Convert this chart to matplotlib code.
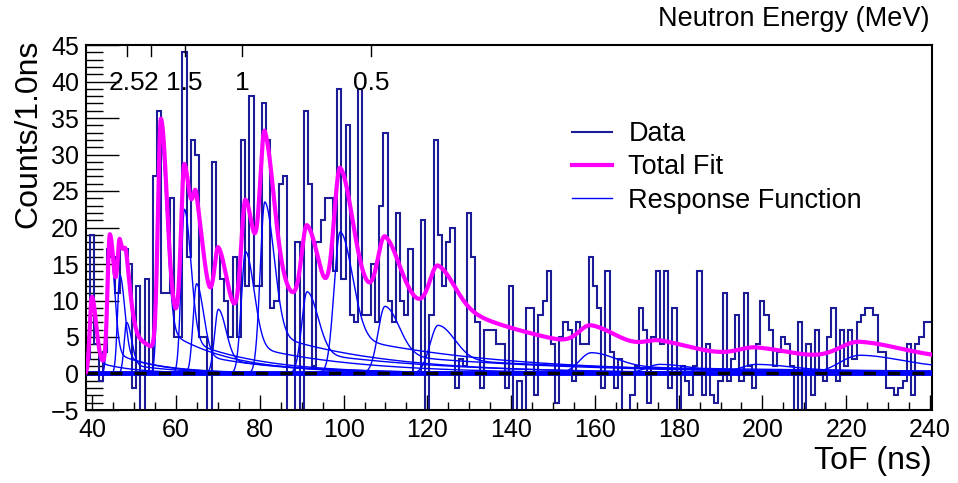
import numpy as np
import matplotlib
matplotlib.use("Agg")
import matplotlib.pyplot as plt
from matplotlib.ticker import MultipleLocator
from matplotlib.lines import Line2D

plt.rcParams['font.family'] = ['Liberation Sans', 'DejaVu Sans']

# ---- data -------------------------------------------------------------
# time-of-flight histogram, 1 ns bins centred on 39 ... 240 ns
tof_bin_centres = np.arange(39, 241)
counts = [
    2, 19, 4, -1, 3, 17, 16, 11, 17, 17, 15, -2, 12, -7, 13, 0, 27, 36, 11, 11,   # 39-58
    24, 5, 5, 44, 16, 32, 30, 5, 5, -6, 29, 17, 13, 10, 5, 16, 5, 32, 12, 38,     # 59-78
    12, 12, 37, 32, 9, 10, 26, 27, -7, -7, 18, -6, 36, 26, 1, 18, 21, 24, 24, 14, # 79-98
    39, 13, 34, 8, 7, 39, 8, 8, 15, 7, 23, 33, 10, 7, 22, 10, 8, 17, 0, 0,        # 99-118
    21, -7, 8, 32, 19, 12, 18, 20, -2, 2, 1, 22, 16, 7, -2, 6, 6, 6, 4, 4,        # 119-138
    -2, 12, -6, -1, -7, 9, 9, -3, 8, 10, 14, 4, -4, 5, 7, 6, -1, 7, 4, 4,         # 139-158
    16, 12, 9, -2, 14, 3, -2, 2, -7, -7, -3, 1, 9, 6, -4, 5, 14, 4, 14, -2,       # 159-178
    9, -6, 1, -1, -3, 1, 14, -3, 4, -3, -4, -1, 11, -1, 2, 8, -1, 11, 1, -2,      # 179-198
    4, 10, 8, 6, 1, 3, 5, 4, 1, -6, 7, -6, 4, -3, 6, 0, -1, 5, 9, -1,             # 199-218
    6, 1, 6, 2, 7, 8, 9, 9, 8, 3, 3, -2, -2, -3, -2, -1, 4, -3, 4, 5,             # 219-238
    7, 7,                                                                          # 239-240
]

# fitted response-function peaks: position (ns) and height (counts)
peak_tof = [39.9, 44.2, 46.6, 48.2, 56.4, 62.0, 64.9, 70.1, 76.6, 81.2,
            91.3, 99.2, 109.9, 122.6, 159.2, 175.6, 198.6, 223.3]
peak_amp = [10.5, 18.0, 13.5, 7.0, 32.0, 22.5, 12.3, 8.8, 16.7, 23.5,
            11.2, 19.4, 9.2, 6.6, 2.85, 1.25, 1.25, 2.5]

# neutron energies marked on the upper axis (MeV)
energy_marks = [2.5, 2, 1.5, 1, 0.5]
energy_labels = ["2.5", "2", "1.5", "1", "0.5"]

flight_path_m = 1.0286        # source-to-detector distance
tof_offset_ns = 1.34          # timing offset
neutron_mass_mev = 939.565
c_m_per_ns = 0.299792458


def energy_to_tof(e_mev):
    e = np.asarray(e_mev, dtype=float)
    beta = np.sqrt(2.0 * e / neutron_mass_mev)
    return tof_offset_ns + flight_path_m / (beta * c_m_per_ns)


def response(t, t0, amp):
    """Detector response: gaussian rise, fast fall plus long exponential tail."""
    scale = t0 / 56.0
    s_left = np.hypot(0.35, 0.6 * scale ** 1.5)
    s_right = 2.0 * s_left
    tau = 15.0 * scale ** 1.6
    frac = 0.2 * scale ** 0.5
    dt = t - t0
    rise = np.exp(-0.5 * (dt / s_left) ** 2)
    fall = (1 - frac) * np.exp(-0.5 * (dt / s_right) ** 2) + frac * np.exp(-np.clip(dt, 0, None) / tau)
    return amp * np.where(dt < 0, rise, fall)


# ---- figure -----------------------------------------------------------
W, H = 958, 483
fig = plt.figure(figsize=(W / 100, H / 100), dpi=100)
ax = fig.add_axes([86 / W, 1 - 410 / H, 846 / W, 365 / H])

edges = np.append(tof_bin_centres - 0.5, tof_bin_centres[-1] + 0.5)
ax.stairs(counts, edges, baseline=None, color='#1c1c98', lw=1.5, zorder=2)

t = np.linspace(edges[0], edges[-1], 4000)
components = [response(t, t0, a) for t0, a in zip(peak_tof, peak_amp)]
for comp in components:
    ax.plot(t, comp, color='#0000ff', lw=1.0, zorder=3)
background = np.zeros_like(t)
ax.plot(t, background, color='#0000ff', lw=3.5, zorder=3)
ax.plot(t, background, color='black', lw=2.5, ls=(0, (3.5, 3.5)), zorder=4)
total = np.sum(components, axis=0) + background
ax.plot(t, total, color='#ff00ff', lw=3.0, zorder=5)

ax.set_xlim(edges[0], edges[-1])
ax.set_ylim(-5, 45)

ax.xaxis.set_major_locator(MultipleLocator(20))
ax.xaxis.set_minor_locator(MultipleLocator(5))
ax.yaxis.set_major_locator(MultipleLocator(5))
ax.yaxis.set_minor_locator(MultipleLocator(1))
ax.tick_params(axis='both', which='both', direction='in', top=False, right=False,
               labelsize=18, width=1.0, color='black')
ax.tick_params(axis='x', which='major', length=11, pad=6)
ax.tick_params(axis='x', which='minor', length=6)
ax.tick_params(axis='y', which='major', length=24, pad=5)
ax.tick_params(axis='y', which='minor', length=12)
for s in ax.spines.values():
    s.set_linewidth(1.5)

# energy scale on the upper edge
e_tof = energy_to_tof(energy_marks)
for x in e_tof:
    ax.plot([x, x], [1.0, 1 - 11 / 365], transform=ax.get_xaxis_transform(),
            color='black', lw=1.0, clip_on=False, zorder=6)
for x, lab in zip(e_tof, energy_labels):
    ax.text(x, 1 - (83 - 45) / 365, lab, transform=ax.get_xaxis_transform(),
            ha='center', va='center', fontsize=19, zorder=6)

fig.text(930 / W, 1 - 19 / H, 'Neutron Energy (MeV)', ha='right', va='center', fontsize=19.5)
fig.text(932 / W, 1 - 461 / H, 'ToF (ns)', ha='right', va='center', fontsize=23)
fig.text(28 / W, 1 - 40 / H, 'Counts/1.0ns', ha='center', va='top', rotation=90, fontsize=23)

handles = [Line2D([], [], color='#1c1c98', lw=1.5),
           Line2D([], [], color='#ff00ff', lw=3.0),
           Line2D([], [], color='#0000ff', lw=1.0)]
ax.legend(handles, ['Data', 'Total Fit', 'Response Function'],
          loc='upper left', bbox_to_anchor=(572 / W, 1 - 121 / H), bbox_transform=fig.transFigure,
          frameon=False, fontsize=19.5, handlelength=1.46, handletextpad=0.62,
          labelspacing=0.27, borderpad=0, borderaxespad=0)

fig.savefig('out.png', dpi=100)
